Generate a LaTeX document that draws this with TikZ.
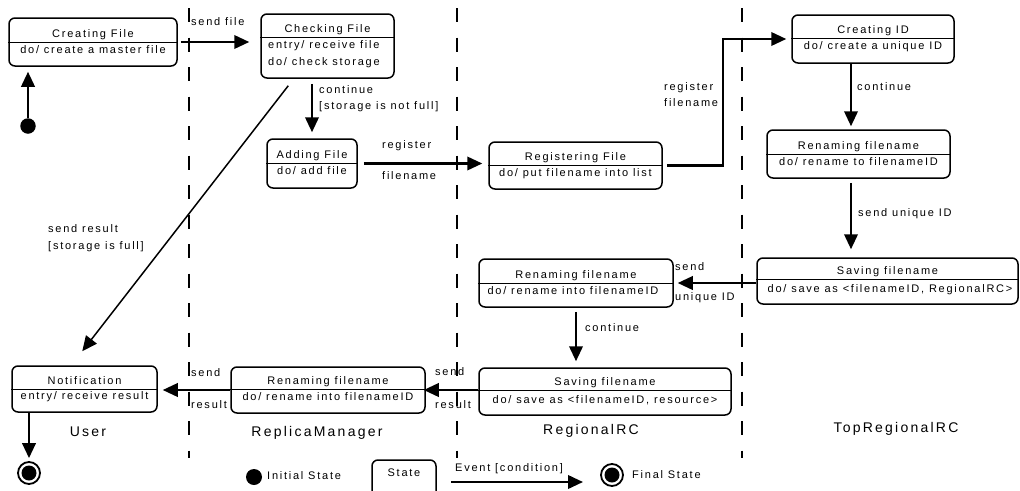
\documentclass[tikz,border=0pt]{standalone}
\usepackage{fontspec}
\setmainfont{Liberation Sans}[LetterSpace=16,Ligatures=NoCommon]
\usetikzlibrary{arrows.meta}
\newcommand\mkstate[7]{%
  \node[stbox, minimum width={#4-#2}, minimum height={#5-#3}] (#1) at ({(#2+#4)/2},{(#3+#5)/2}) {};
  \draw[divl] (#1.west |- 0,#6) -- (#1.east |- 0,#6);
  \node[ttl] (#1-t) at ({(#2+#4)/2},#6-7.5) {#7};
}
\begin{document}
\begin{tikzpicture}[x=1pt,y=-1pt,font=\fontsize{11}{13}\selectfont,
  stbox/.style={draw, line width=1.5pt, rounded corners=6pt, inner sep=0pt},
  divl/.style={line width=1pt},
  tr/.style={line width=2.2pt, -{Triangle[length=15pt,width=13.5pt]}},
  trthin/.style={line width=1.5pt, -{Triangle[length=15pt,width=13.5pt]}},
  lane/.style={line width=1.4pt, dash pattern=on 14pt off 15.5pt},
  lbl/.style={anchor=west, inner sep=0pt, text height=8pt, text depth=2.5pt},
  ttl/.style={inner sep=0pt, text height=8pt, text depth=2.5pt},
  lanelbl/.style={font=\fontsize{14}{16}\selectfont, inner sep=0pt, text height=10pt, text depth=3pt}]
\useasboundingbox[fill=white] (0,0) rectangle (1020,490);

% swimlane separators
\draw[lane] (189,8) -- (189,458);
\draw[lane] (457,8) -- (457,458);
\draw[lane] (742,8) -- (742,458);

% states
\mkstate{cf}{9}{18}{177}{66}{42}{Creating File}
\node[ttl] (cf-b) at (93,50.5) {do/ create a master file};

\mkstate{chk}{261}{14}{394}{78}{37}{Checking File}
\node[lbl] (chk-b1) at (268,45.5) {entry/ receive file};
\node[lbl] (chk-b2) at (268,62.5) {do/ check storage};

\mkstate{add}{267}{139}{357}{188}{163}{Adding File}
\node[ttl] (add-b) at (312,171.5) {do/ add file};

\mkstate{reg}{489}{142}{662}{189}{165}{Registering File}
\node[ttl] (reg-b) at (575.5,173.5) {do/ put filename into list};

\mkstate{cid}{792}{15}{954}{63}{38}{Creating ID}
\node[ttl] (cid-b) at (873,46.5) {do/ create a unique ID};

\mkstate{ren1}{767}{130}{950}{178}{154}{Renaming filename}
\node[ttl] (ren1-b) at (858.5,162.5) {do/ rename to filenameID};

\mkstate{sav1}{757}{258}{1018}{304}{279}{Saving filename}
\node[ttl] (sav1-b) at (890,289.5) {do/ save as <filenameID, RegionalRC>};

\mkstate{ren2}{479}{259}{673}{307}{283}{Renaming filename}
\node[ttl] (ren2-b) at (573,291.5) {do/ rename into filenameID};

\mkstate{sav2}{479}{368}{731}{415}{390}{Saving filename}
\node[ttl] (sav2-b) at (605,400.5) {do/ save as <filenameID, resource>};

\mkstate{rmr}{231}{367}{425}{413}{389}{Renaming filename}
\node[ttl] (rmr-b) at (328,398) {do/ rename into filenameID};

\mkstate{note}{12}{366}{157}{412}{389}{Notification}
\node[ttl] (note-b) at (84.5,396.5) {entry/ receive result};

% initial / final
\node[circle, fill, minimum size=15.5pt, inner sep=0pt] (init) at (28,126) {};
\node[circle, draw, line width=1.8pt, minimum size=22pt, inner sep=0pt] (fin) at (29,473) {};
\node[circle, fill, minimum size=15pt, inner sep=0pt] (fin-in) at (fin) {};

% transitions
\coordinate (bend) at (723,0);
\coordinate (c1) at (851,0);
\draw[tr, shorten >=5pt] (init.north) -- (cf.south -| init.north);
\draw[tr, shorten <=3pt, shorten >=11pt] (cf.east) -- (chk.west |- cf.east);
\node[lbl] (l-sf) at (191,23) {send file};
\draw[tr, shorten <=5pt, shorten >=6pt] (add.north |- chk.south) -- (add.north);
\node[lbl] (l-c1) at (319,91) {continue};
\node[lbl] (l-c1b) at (319,107) {[storage is not full]};
\draw[trthin] ([shift={(28,7)}]chk.south west) -- ([shift={(71,-14)}]note.north west);
\node[lbl] (l-sr) at (48,230) {send result};
\node[lbl] (l-srb) at (48,247) {[storage is full]};
\draw[tr, shorten <=6pt, shorten >=6pt] (add.east) -- (reg.west |- add.east);
\node[lbl] (l-r1) at (382,146) {register};
\node[lbl] (l-r1b) at (382,177) {filename};
\draw[tr, shorten <=4pt, shorten >=5pt, line join=miter] (reg.east) -- (reg.east -| bend) -- (cid.west -| bend) -- (cid.west);
\node[lbl] (l-r2) at (664,88) {register};
\node[lbl] (l-r2b) at (664,104) {filename};
\draw[tr, shorten >=3pt] (cid.south -| c1) -- (ren1.north -| c1);
\node[lbl] (l-c2) at (857,88) {continue};
\draw[tr, shorten <=4pt, shorten >=8pt] (ren1.south -| c1) -- (sav1.north -| c1);
\node[lbl] (l-su) at (858,214) {send unique ID};
\draw[tr, shorten >=4pt] (sav1.west |- ren2.east) -- (ren2.east);
\node[lbl] (l-s1) at (675,268) {send};
\node[lbl] (l-s1b) at (675,298) {unique ID};
\draw[tr, shorten <=4pt, shorten >=6pt] (ren2.south) -- (ren2.south |- sav2.north);
\node[lbl] (l-c3) at (585,329) {continue};
\draw[tr, shorten >=-2pt] (sav2.west |- rmr.east) -- (rmr.east);
\node[lbl] (l-s2) at (435,373) {send};
\node[lbl] (l-s2b) at (435,406) {result};
\draw[tr, shorten >=5pt] (rmr.west) -- (note.east |- rmr.west);
\node[lbl] (l-s3) at (191,374) {send};
\node[lbl] (l-s3b) at (191,406) {result};
\draw[tr, shorten >=3pt] (note.south -| fin.north) -- (fin.north);

% lane titles
\node[lanelbl] (t-user) at (88,433) {User};
\node[lanelbl] (t-rm) at (317,433) {ReplicaManager};
\node[lanelbl] (t-reg) at (591,431) {RegionalRC};
\node[lanelbl] (t-top) at (896,429) {TopRegionalRC};

% legend
\node[circle, fill, minimum size=16pt, inner sep=0pt] (lg-init) at (254,477) {};
\node[lbl] (lg-init-t) at (267,477) {Initial State};
\node[stbox, minimum width=64, minimum height=38] (lg-state) at (404,479) {};
\node[ttl] (lg-state-t) at (404,474) {State};
\coordinate (lg-a) at (451,482);
\coordinate (lg-b) at (583,482);
\draw[tr] (lg-a) -- (lg-b);
\node[lbl] (lg-ev) at (455,469) {Event [condition]};
\node[circle, draw, line width=1.8pt, minimum size=22pt, inner sep=0pt] (lg-fin) at (612,475) {};
\node[circle, fill, minimum size=15pt, inner sep=0pt] (lg-fin-in) at (lg-fin) {};
\node[lbl] (lg-fin-t) at (632,476) {Final State};
\end{tikzpicture}
\end{document}
